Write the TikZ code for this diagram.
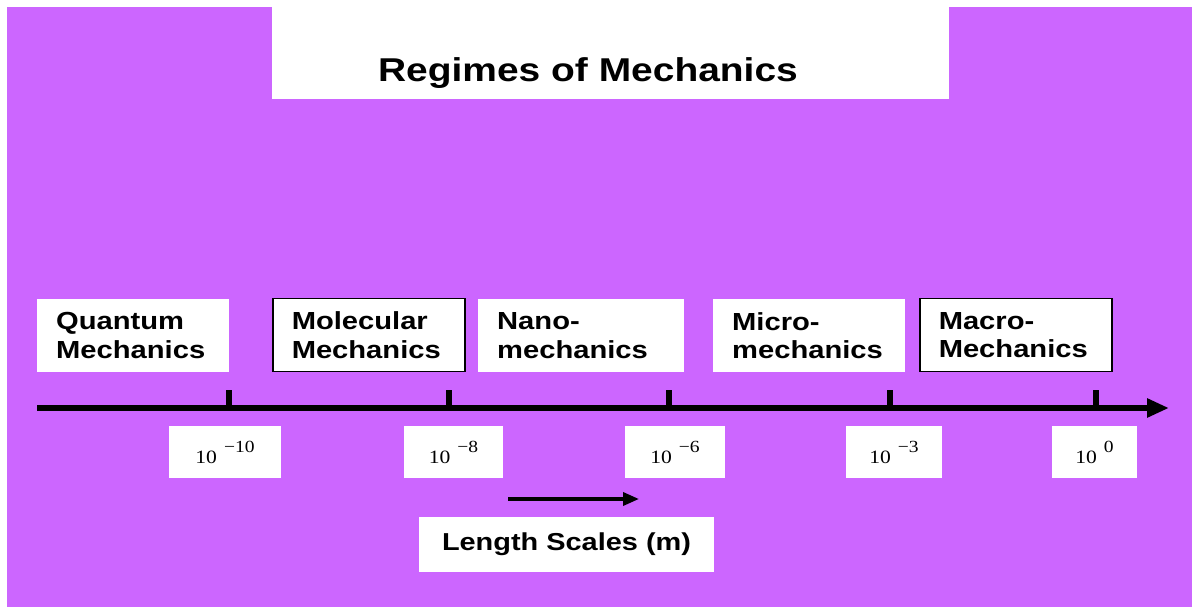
\documentclass[tikz,border=0pt]{standalone}
\usepackage{fontspec}
\usepackage{tikz}
\usetikzlibrary{arrows.meta,positioning}
\newfontfamily\labelfont[FakeStretch=1.18]{Liberation Sans}
\newfontfamily\numfont[FakeStretch=1.15]{Liberation Serif}
\definecolor{violetbg}{RGB}{204,102,255}
\newcommand{\tenpow}[1]{10\hspace{7pt}\raisebox{11pt}{\fontsize{17}{18}\selectfont #1}}

\begin{document}
\begin{tikzpicture}[x=1pt, y=-1pt,
  regime/.style={fill=white, align=left, anchor=west, minimum height=73pt,
    inner xsep=19pt, inner ysep=0pt, font=\labelfont\bfseries\fontsize{24.7}{28.5}\selectfont},
  framed/.style={draw=black, line width=1.5pt},
  scalelabel/.style={fill=white, inner sep=0pt, minimum height=52pt,
    font=\numfont\fontsize{18.8}{20}\selectfont},
  tickmark/.style={line width=6pt}
]
\useasboundingbox (0,0) rectangle (1192,607);
% background and title
\fill[violetbg] (7,7) rectangle (1192,607);
\node[fill=white, minimum width=677pt, minimum height=92pt, inner sep=0pt] (titlebox) at (610.5,53) {};
\node[font=\labelfont\bfseries\fontsize{33}{36}\selectfont] (title) at (588,73) {Regimes of Mechanics};
% regimes
\node[regime, text width=154pt] (quantum) at (37,335.5) {Quantum\\Mechanics};
\node[regime, framed, text width=154pt] (molecular) at (272,335) {Molecular\\Mechanics};
\node[regime, text width=168pt] (nano) at (478,335.5) {Nano-\\mechanics};
\node[regime, text width=154pt] (micro) at (713,335.5) {Micro-\\mechanics};
\node[regime, framed, text width=154pt] (macro) at (919,335) {Macro-\\Mechanics};
% length axis with ticks
\coordinate (axisstart) at (37,408);
\coordinate (axisend) at (1169,408);
\draw[line width=6.5pt, -{Triangle[length=22pt,width=18pt]}] (axisstart) -- (axisend);
\foreach \tx [count=\i] in {229,449,669,890,1096} {
  \coordinate (tick\i) at (\tx,390);
  \draw[tickmark] (tick\i) -- (tick\i |- axisstart);
}
% scale values
\foreach \name/\cx/\w/\ex in {pow10/225/112/−10, pow8/453.5/99/−8, pow6/675/100/−6, pow3/894/96/−3, pow0/1094.5/85/0} {
  \node[scalelabel, minimum width=\w pt] (\name) at (\cx,452) {\tenpow{\ex}};
}
% direction of increasing length
\coordinate (scalefrom) at (508,499);
\coordinate (scaleto) at (639,499);
\draw[line width=3.5pt, -{Triangle[length=16pt,width=13pt]}] (scalefrom) -- (scaleto);
\node[fill=white, minimum width=295pt, minimum height=55pt, inner sep=0pt,
  font=\labelfont\bfseries\fontsize{24.5}{28}\selectfont] (lengthscale) at (566.5,544.5) {Length Scales (m)};
\end{tikzpicture}
\end{document}
